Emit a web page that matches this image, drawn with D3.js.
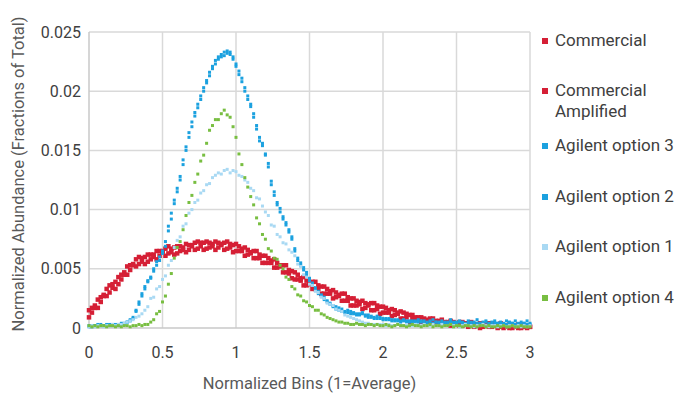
<!DOCTYPE html>
<html>
<head>
<meta charset="utf-8">
<script src="https://cdn.jsdelivr.net/npm/d3@7"></script>
<style>
  body { margin: 0; background: #fff; }
  svg { display: block; font-family: Roboto, sans-serif; }
</style>
</head>
<body>
<svg id="chart" width="676" height="393"></svg>
<script>
// bin positions: every 0.02 from 0 to 3 (values below are in units of 1e-4)
const binStep = 0.02;
const valueUnit = 1e-4;

const xTicks = [0, 0.5, 1, 1.5, 2, 2.5, 3];
const yTicks = [0, 0.005, 0.01, 0.015, 0.02, 0.025];
const yTickLabels = ["0", "0.005", "0.01", "0.015", "0.02", "0.025"];

const seriesNames = ["Commercial", "Commercial Amplified", "Agilent option 3", "Agilent option 2", "Agilent option 1", "Agilent option 4"];

const commercial = [
  15,13,19,17,26,27,27,36,34,39, 43,41,47,45,53,53,52,60,56,60,
  62,58,62,58,65,64,61,69,64,68, 69,65,68,64,70,69,66,73,69,72,
  73,68,71,66,72,70,66,73,68,70, 71,65,67,61,66,63,59,65,59,61,
  61,55,57,51,55,52,47,53,46,48, 47,41,42,36,40,37,33,39,33,35,
  35,29,31,25,30,27,23,29,23,25, 25,19,22,16,21,19,15,21,16,18,
  18,13,15,10,15,12,8,13,9,11, 11,7,9,5,8,6,5,8,5,6,
  7,3,5,2,5,3,2,5,3,4, 5,1,3,0,3,2,1,4,2,3,
  4,0,2,0,2,1,0,3,1,2,1
];
const commercialAmplified = [
  9,17,17,24,22,28,33,30,37,33, 37,45,45,52,49,54,58,54,59,54,
  56,62,60,65,61,65,67,63,67,62, 63,69,66,71,66,70,72,67,72,66,
  67,72,69,73,68,71,72,67,71,64, 65,69,65,68,62,64,65,59,62,55,
  55,59,55,58,51,53,53,47,49,42, 41,45,40,43,36,38,39,33,36,29,
  29,33,29,32,26,28,29,23,26,19, 19,23,20,23,17,20,21,15,19,12,
  13,17,13,16,11,13,14,8,12,5, 8,9,8,9,6,7,8,5,6,3,
  4,5,4,6,3,4,5,2,4,1, 2,3,2,4,1,3,4,1,3,0,
  1,2,1,3,0,2,3,0,2,0,1
];
const agilent3 = [
  2,1,2,3,2,2,3,2,3,2, 3,3,4,5,6,9,14,22,27,35,
  39,43,50,53,60,63,73,82,97,105, 118,125,142,150,165,170,182,186,196,200,
  207,216,219,226,227,231,230,234,231,229, 223,214,211,200,196,187,181,168,161,154,
  147,139,121,115,104,101,92,89,81,77, 67,57,55,49,47,40,38,32,31,27,
  26,22,21,18,18,15,16,13,15,12, 13,11,12,13,10,11,9,8,10,8,
  8,7,8,6,7,6,6,7,5,6, 6,5,7,5,6,4,5,7,5,4,
  6,4,5,7,4,5,6,5,3,6, 4,5,7,4,5,6,3,5,6,4,
  5,3,6,5,4,6,3,5,4,6,4
];
const agilent2 = [
  1,2,2,2,3,2,2,3,2,3, 2,4,3,5,7,8,15,20,29,33,
  40,42,48,56,57,65,69,86,92,108, 115,128,138,153,161,174,179,189,193,203,
  209,213,221,223,229,229,233,232,233,227, 221,217,208,203,193,189,178,171,158,156,
  146,136,124,112,106,98,94,87,83,75, 65,59,53,51,45,42,36,34,29,28,
  24,23,20,19,16,17,14,14,13,14, 12,12,11,12,11,9,10,9,8,9,
  7,8,7,7,6,7,5,6,6,5, 5,6,5,6,4,5,6,4,5,5,
  4,5,4,5,5,3,5,4,4,4, 5,3,4,4,3,5,4,3,4,4,
  3,4,3,4,4,3,4,3,4,3,3
];
const agilent1 = [
  1,2,1,2,2,1,2,2,3,2, 3,3,4,5,6,7,9,10,12,15,
  18,25,26,33,35,41,44,53,57,68, 74,77,86,88,97,100,106,108,114,116,
  121,122,127,129,131,130,133,134,131,133, 132,129,128,125,123,118,116,110,109,103,
  98,95,87,86,79,77,72,71,66,64, 61,54,52,45,43,37,36,31,30,26,
  25,21,20,19,16,15,14,11,10,9, 8,7,6,5,4,4,3,3,3,3,
  3,2,3,2,2,3,2,2,3,2, 2,3,2,2,3,2,2,3,2,2,
  3,2,2,3,2,2,1,2,3,2, 2,1,2,2,3,2,1,2,2,1,
  2,2,1,2,2,1,2,1,2,1,2
];
const agilent4 = [
  2,1,2,1,2,2,1,2,2,1, 2,1,2,2,1,2,2,3,2,3,
  3,5,7,12,14,22,27,37,46,59, 68,73,83,95,106,112,123,130,141,146,
  156,167,171,176,176,181,184,180,178,170, 161,147,138,127,119,111,104,93,88,79,
  75,67,65,59,58,53,50,43,41,35, 33,28,27,23,22,19,18,15,15,12,
  11,9,8,7,6,5,5,4,4,3, 3,4,3,3,2,3,3,2,3,2,
  2,3,2,1,2,3,2,2,1,2, 3,2,2,1,2,2,3,1,2,2,
  1,2,2,3,1,2,2,1,2,2, 1,2,1,2,2,1,2,1,1,2,
  1,2,1,1,2,1,1,2,1,1,1
];

const seriesValues = [commercial, commercialAmplified, agilent3, agilent2, agilent1, agilent4];
const seriesColors = ["#d51f35", "#d51f35", "#1ba1df", "#1ba1df", "#a9d9f3", "#78be41"];
const markerSizes = [4.5, 4.5, 3, 3, 3, 3];

const svg = d3.select("#chart");
const margin = { top: 32, right: 146, bottom: 65, left: 89 };
const width = 676 - margin.left - margin.right;
const height = 393 - margin.top - margin.bottom;

const x = d3.scaleLinear().domain([0, 3]).range([margin.left, margin.left + width]);
const y = d3.scaleLinear().domain([0, 0.025]).range([margin.top + height, margin.top]);

// Gridlines
svg.append("g")
    .selectAll("line")
    .data(yTicks.slice(1))
    .join("line")
    .attr("x1", x(0)).attr("x2", x(3))
    .attr("y1", d => y(d)).attr("y2", d => y(d))
    .attr("stroke", "#d9d9d9").attr("stroke-width", 1.5);

svg.append("g")
    .selectAll("line")
    .data(xTicks.slice(1))
    .join("line")
    .attr("x1", d => x(d)).attr("x2", d => x(d))
    .attr("y1", y(0)).attr("y2", y(0.025))
    .attr("stroke", "#d9d9d9").attr("stroke-width", 1.5);

// Axis lines
svg.append("line")
    .attr("x1", x(0)).attr("x2", x(0)).attr("y1", y(0)).attr("y2", y(0.025))
    .attr("stroke", "#c8c8c8").attr("stroke-width", 1.5);
svg.append("line")
    .attr("x1", x(0)).attr("x2", x(3)).attr("y1", y(0)).attr("y2", y(0))
    .attr("stroke", "#c8c8c8").attr("stroke-width", 1.5);

// Tick labels
svg.append("g")
    .selectAll("text")
    .data(yTicks)
    .join("text")
    .attr("x", x(0) - 8)
    .attr("y", d => y(d))
    .attr("dy", "0.35em")
    .attr("text-anchor", "end")
    .attr("font-size", 16)
    .attr("fill", "#404040")
    .text((d, i) => yTickLabels[i]);

svg.append("g")
    .selectAll("text")
    .data(xTicks)
    .join("text")
    .attr("x", d => x(d))
    .attr("y", y(0) + 30)
    .attr("text-anchor", "middle")
    .attr("font-size", 16)
    .attr("fill", "#404040")
    .text(d => d);

// Axis titles
svg.append("text")
    .attr("x", (x(0) + x(3)) / 2)
    .attr("y", 389)
    .attr("text-anchor", "middle")
    .attr("font-size", 16.5)
    .attr("fill", "#595959")
    .text("Normalized Bins (1=Average)");

svg.append("text")
    .attr("transform", `translate(24, ${(y(0) + y(0.025)) / 2 - 6}) rotate(-90)`)
    .attr("text-anchor", "middle")
    .attr("font-size", 16.5)
    .attr("fill", "#595959")
    .text("Normalized Abundance (Fractions of Total)");

// Scatter markers
seriesValues.forEach((vals, s) => {
    const sz = markerSizes[s];
    svg.append("g")
        .selectAll("rect")
        .data(vals)
        .join("rect")
        .attr("x", (d, i) => x(i * binStep) - sz / 2)
        .attr("y", d => y(d * valueUnit) - sz / 2)
        .attr("width", sz)
        .attr("height", sz)
        .attr("fill", seriesColors[s]);
});

// Legend
const legendY = [40, 90, 145, 196, 246, 297];
const legend = svg.append("g");
seriesNames.forEach((name, i) => {
    legend.append("rect")
        .attr("x", 542).attr("y", legendY[i] - 2)
        .attr("width", 6).attr("height", 6)
        .attr("fill", seriesColors[i]);
    const words = name === "Commercial Amplified" ? ["Commercial", "Amplified"] : [name];
    words.forEach((w, k) => {
        legend.append("text")
            .attr("x", 555)
            .attr("y", legendY[i] + k * 21)
            .attr("dy", "0.35em")
            .attr("font-size", 17)
            .attr("fill", "#404040")
            .text(w);
    });
});
</script>
</body>
</html>
